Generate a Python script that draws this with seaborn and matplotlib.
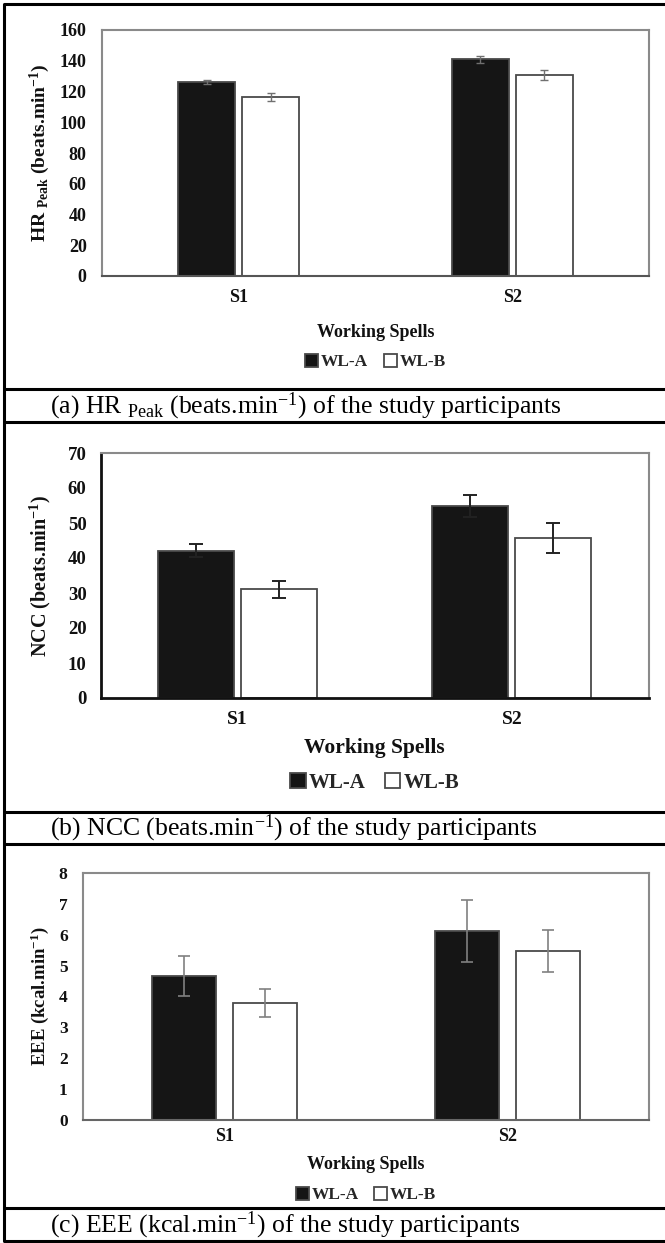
import matplotlib
matplotlib.use("Agg")
import matplotlib.pyplot as plt
from matplotlib.lines import Line2D
import seaborn as sns
import pandas as pd

# ---------------- data ----------------
spells = ["S1", "S2"]
loads = ["WL-A", "WL-B"]

hr_a = [126.0, 140.9]
hr_b = [116.6, 130.9]
hr_err_a = [1.3, 2.5]
hr_err_b = [2.5, 3.2]

ncc_a = [42.1, 54.9]
ncc_b = [31.1, 45.8]
ncc_err_a = [1.9, 3.2]
ncc_err_b = [2.4, 4.3]

eee_a = [4.67, 6.12]
eee_b = [3.78, 5.47]
eee_err_a = [0.65, 0.99]
eee_err_b = [0.45, 0.69]

y_labels = [r"HR $_{\mathregular{Peak}}$ (beats.min$^{\mathregular{-1}}$)",
            r"NCC (beats.min$^{\mathregular{-1}}$)",
            r"EEE (kcal.min$^{\mathregular{-1}}$)"]
captions = [r"(a) HR $_{\mathregular{Peak}}$ (beats.min$^{\mathregular{-1}}$) of the study participants",
            r"(b) NCC (beats.min$^{\mathregular{-1}}$) of the study participants",
            r"(c) EEE (kcal.min$^{\mathregular{-1}}$) of the study participants"]
x_label = "Working Spells"

# ---------------- style ----------------
sns.set_theme(style="white")
plt.rcParams["font.family"] = ["Liberation Serif", "DejaVu Serif"]
plt.rcParams["mathtext.default"] = "regular"

W, H = 665, 1243
fig = plt.figure(figsize=(W / 100, H / 100), dpi=100)
fig.patch.set_facecolor("white")


def axes_px(left, right, top, bottom):
    return fig.add_axes([left / W, 1 - bottom / H, (right - left) / W, (bottom - top) / H])


def make_df(a, b):
    rows = []
    for s, va, vb in zip(spells, a, b):
        rows.append({"Spell": s, "Load": loads[0], "value": va})
        rows.append({"Spell": s, "Load": loads[1], "value": vb})
    return pd.DataFrame(rows)


panels = [
    dict(a=hr_a, b=hr_b, ea=hr_err_a, eb=hr_err_b, box=(102, 649, 30, 276),
         ymax=160, step=20, width=0.468, gap=0.11, errc="#707070", elw=1.0, cap=3,
         tick_fs=13, xtick_fs=13, lab_fs=14, xl_fs=13, leg_fs=12.5, spine="#8a8a8a", bspine="#555555", slw=1.5,
         ylab_x=-0.113, xl_y=-0.228, leg_y=-0.35, tick_pad=9, ytick_pad=8),
    dict(a=ncc_a, b=ncc_b, ea=ncc_err_a, eb=ncc_err_b, box=(100.5, 649, 453, 698),
         ymax=70, step=10, width=0.606, gap=0.086, errc="#222222", elw=1.4, cap=5,
         tick_fs=13.5, xtick_fs=14, lab_fs=14.5, xl_fs=15.5, leg_fs=15, spine="#8a8a8a", bspine="#111111", slw=2.0,
         ylab_x=-0.110, xl_y=-0.204, leg_y=-0.347, tick_pad=9, ytick_pad=5),
    dict(a=eee_a, b=eee_b, ea=eee_err_a, eb=eee_err_b, box=(83, 649, 873, 1120),
         ymax=8, step=1, width=0.566, gap=0.2, errc="#808080", elw=1.2, cap=4,
         tick_fs=12.5, xtick_fs=13, lab_fs=13.5, xl_fs=13, leg_fs=12.5, spine="#8a8a8a", bspine="#666666", slw=1.5,
         ylab_x=-0.076, xl_y=-0.182, leg_y=-0.304, tick_pad=6, ytick_pad=8),
]

for i, p in enumerate(panels):
    ax = axes_px(*p["box"])
    df = make_df(p["a"], p["b"])
    sns.barplot(data=df, x="Spell", y="value", hue="Load", order=spells, hue_order=loads,
                palette={loads[0]: "#151515", loads[1]: "white"}, edgecolor="#4a4a4a",
                linewidth=1.3, width=p["width"], gap=p["gap"], errorbar=None, ax=ax)
    bar_conts = list(ax.containers)
    if ax.get_legend() is not None:
        ax.get_legend().remove()
    for cont, errs in zip(bar_conts, [p["ea"], p["eb"]]):
        xs = [r.get_x() + r.get_width() / 2 for r in cont]
        ys = [r.get_height() for r in cont]
        ax.errorbar(xs, ys, yerr=errs, fmt="none", ecolor=p["errc"], elinewidth=p["elw"],
                    capsize=p["cap"], capthick=p["elw"], zorder=5)

    ax.set_ylim(0, p["ymax"])
    ax.set_yticks(range(0, p["ymax"] + 1, p["step"]))
    ax.set_xlim(-0.5, 1.5)
    ax.tick_params(axis="x", length=0, pad=p["tick_pad"])
    ax.tick_params(axis="y", length=3, width=1, color="#555555", direction="out", pad=p["ytick_pad"])
    if i == 1:
        ax.set_xticks([-0.5, 0.5, 1.5], minor=True)
        ax.tick_params(axis="x", which="minor", length=5, width=1.2, color="#222222", direction="out")
        ax.tick_params(axis="y", length=5, width=1.2, color="#222222")
    for lab in ax.get_yticklabels():
        lab.set_fontweight("bold")
        lab.set_fontsize(p["tick_fs"])
        lab.set_color("#111111")
    for lab in ax.get_xticklabels():
        lab.set_fontweight("bold")
        lab.set_fontsize(p["xtick_fs"])
        lab.set_color("#111111")

    for side in ["top", "right", "left", "bottom"]:
        ax.spines[side].set_visible(True)
        ax.spines[side].set_color(p["spine"])
        ax.spines[side].set_linewidth(p["slw"])
    ax.spines["bottom"].set_color(p["bspine"])
    if i == 1:
        ax.spines["left"].set_color(p["bspine"])
        ax.spines["top"].set_linewidth(1.5)
        ax.spines["right"].set_linewidth(1.5)

    ax.set_ylabel(y_labels[i], fontsize=p["lab_fs"], fontweight="bold", color="#111111")
    ax.yaxis.set_label_coords(p["ylab_x"], 0.5)
    ax.yaxis.label.set_va("center")
    ax.set_xlabel(x_label, fontsize=p["xl_fs"], fontweight="bold", color="#111111")
    ax.xaxis.set_label_coords(0.5, p["xl_y"])
    ax.xaxis.label.set_va("center")

    ax.legend(handles=bar_conts, labels=loads, loc="center", bbox_to_anchor=(0.5, p["leg_y"]),
              ncol=2, frameon=False, handlelength=0.75, handleheight=0.75, handletextpad=0.15,
              columnspacing=0.9, borderaxespad=0,
              prop={"family": "Liberation Serif", "weight": "bold", "size": p["leg_fs"]})

# ---------------- table frame & captions ----------------
for yy in [4, 389, 422, 812, 844, 1208, 1241]:
    fig.add_artist(Line2D([4 / W, 1.0], [1 - yy / H, 1 - yy / H], transform=fig.transFigure,
                          color="black", linewidth=2.2, solid_capstyle="butt"))
fig.add_artist(Line2D([4 / W, 4 / W], [1 - 4 / H, 1 - 1241 / H], transform=fig.transFigure,
                      color="black", linewidth=2.2))

for cap, yy in zip(captions, [406, 828, 1225]):
    fig.text(50 / W, 1 - yy / H, cap, fontsize=18.5, family="Liberation Serif",
             ha="left", va="center", color="black")

fig.savefig("out.png", dpi=100, facecolor="white")
